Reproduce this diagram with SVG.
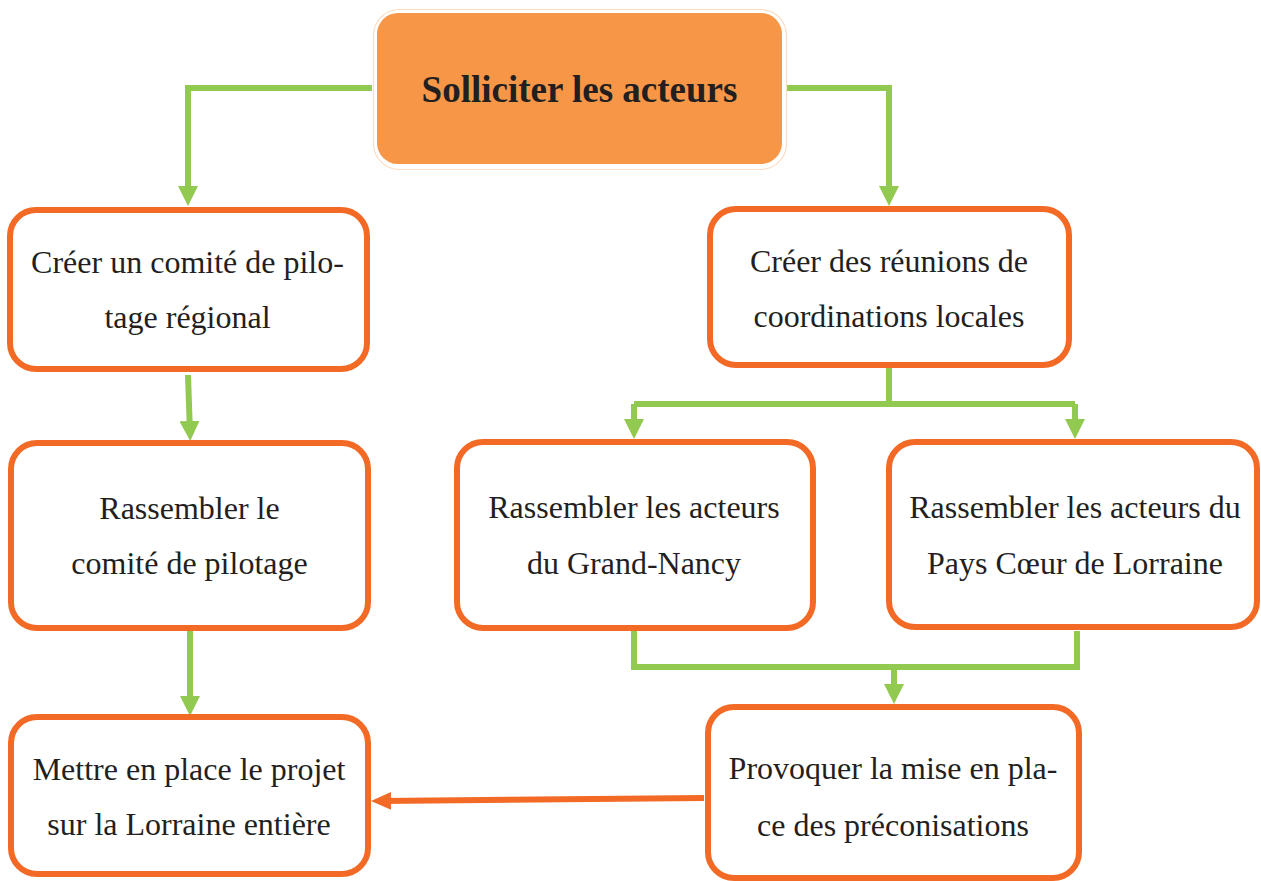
<svg xmlns="http://www.w3.org/2000/svg" width="1261" height="881" viewBox="0 0 1261 881">
<defs>
<style>
.box{fill:#ffffff;stroke:#F26A25;stroke-width:6}
.t{font-family:"Liberation Serif","Times New Roman",serif;font-size:32px;fill:#231F20;text-anchor:middle}
.title{font-family:"Liberation Serif","Times New Roman",serif;font-size:37px;font-weight:bold;fill:#231F20;text-anchor:middle}
.g{fill:none;stroke:#92C950;stroke-width:6}
.o{fill:none;stroke:#F26A25;stroke-width:6}
</style>
<marker id="ag" markerUnits="userSpaceOnUse" viewBox="0 0 20 20" markerWidth="20" markerHeight="20" refX="10" refY="10" orient="auto">
<path d="M0,0 L20,10 L0,20 z" fill="#92C950"/>
</marker>
<marker id="ao" markerUnits="userSpaceOnUse" viewBox="0 0 20 20" markerWidth="20" markerHeight="20" refX="10" refY="10" orient="auto">
<path d="M0,1 L20,10 L0,19 z" fill="#F26A25"/>
</marker>
</defs>
<rect width="1261" height="881" fill="#ffffff"/>
<g id="connectors">
<path class="g" d="M372,88 H188 V196" marker-end="url(#ag)"/>
<path class="g" d="M787,88 H889 V196" marker-end="url(#ag)"/>
<path class="g" d="M188,375 L189.9,431" marker-end="url(#ag)"/>
<path class="g" d="M190,631 V706" marker-end="url(#ag)"/>
<path class="g" d="M889,368 V404"/>
<path class="g" d="M634,404 H1075"/>
<path class="g" d="M634,404 V429" marker-end="url(#ag)"/>
<path class="g" d="M1075,404 V429" marker-end="url(#ag)"/>
<path class="g" d="M634,631 V667 H1077 V631"/>
<path class="g" d="M894,667 V694" marker-end="url(#ag)"/>
<path class="o" d="M704,798 L381,801" marker-end="url(#ao)"/>
</g>
<g id="n-solliciter">
<rect x="373.5" y="9.5" width="413" height="160" rx="26" fill="#ffffff" stroke="#FCDCC3" stroke-width="1.2"/>
<rect x="377" y="13" width="405" height="151" rx="21" fill="#F79646"/>
<text class="title" x="579.5" y="102">Solliciter les acteurs</text>
</g>
<g id="n-comite">
<rect class="box" x="10" y="210" width="357" height="159" rx="26"/>
<text class="t" x="187.5" y="273">Créer un comité de pilo-</text>
<text class="t" x="187.5" y="328">tage régional</text>
</g>
<g id="n-rassembler-comite">
<rect class="box" x="11" y="443" width="357" height="185" rx="26"/>
<text class="t" x="189.5" y="519">Rassembler le</text>
<text class="t" x="189.5" y="574">comité de pilotage</text>
</g>
<g id="n-mettre">
<rect class="box" x="11" y="717" width="357" height="157" rx="26"/>
<text class="t" x="189" y="780">Mettre en place le projet</text>
<text class="t" x="189" y="835">sur la Lorraine entière</text>
</g>
<g id="n-reunions">
<rect class="box" x="710" y="209" width="359" height="156" rx="26"/>
<text class="t" x="889" y="272">Créer des réunions de</text>
<text class="t" x="889" y="327">coordinations locales</text>
</g>
<g id="n-grand-nancy">
<rect class="box" x="457" y="442" width="356" height="186" rx="26"/>
<text class="t" x="634" y="518">Rassembler les acteurs</text>
<text class="t" x="634" y="574">du Grand-Nancy</text>
</g>
<g id="n-pays-coeur">
<rect class="box" x="889" y="442" width="368" height="185" rx="26"/>
<text class="t" x="1075" y="518">Rassembler les acteurs du</text>
<text class="t" x="1075" y="574">Pays Cœur de Lorraine</text>
</g>
<g id="n-provoquer">
<rect class="box" x="708" y="707" width="371" height="171" rx="26"/>
<text class="t" x="893" y="779">Provoquer la mise en pla-</text>
<text class="t" x="893" y="836">ce des préconisations</text>
</g>
</svg>
